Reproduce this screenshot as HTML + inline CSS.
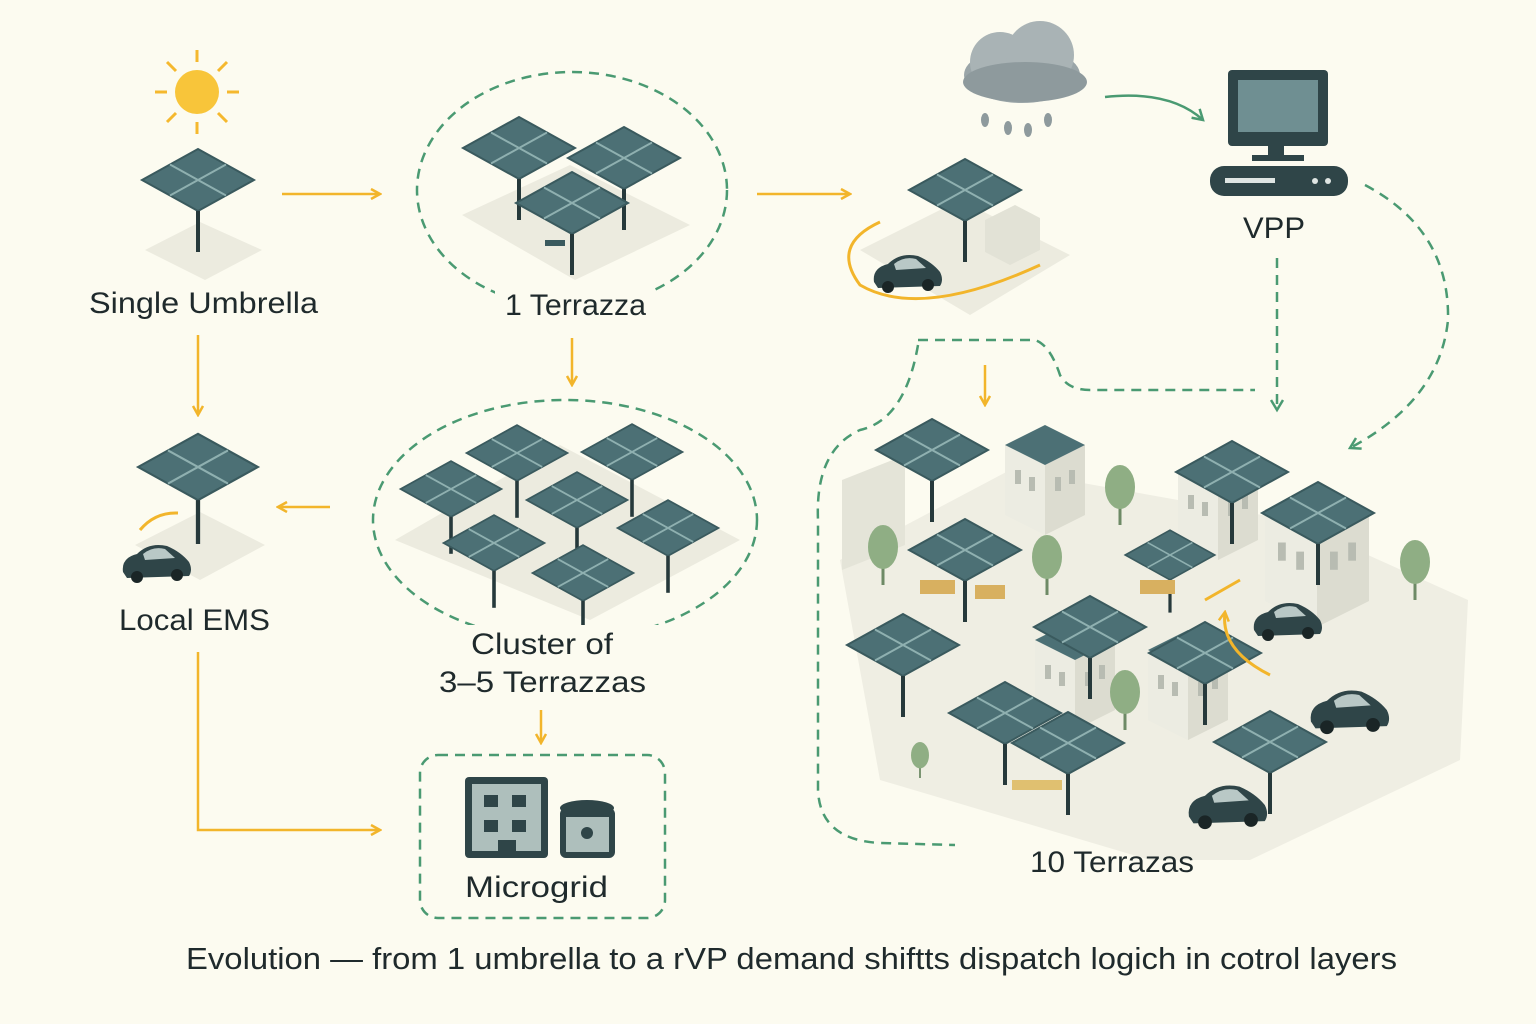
<!DOCTYPE html>
<html><head><meta charset="utf-8"><style>
html,body{margin:0;padding:0;background:#fcfbf0;}
svg{display:block;}
text{font-family:"Liberation Sans",sans-serif;fill:#1f2a2c;}
</style></head><body>
<svg width="1536" height="1024" viewBox="0 0 1536 1024" xmlns="http://www.w3.org/2000/svg">
<defs>
<g id="pan">
<polygon points="-56,0 0,-31 56,0 0,31" fill="#4c7075" stroke="#3a5a5e" stroke-width="2"/>
<line x1="-28" y1="-15.5" x2="28" y2="15.5" stroke="#8fb0b0" stroke-width="2"/>
<line x1="-28" y1="15.5" x2="28" y2="-15.5" stroke="#8fb0b0" stroke-width="2"/>
<line x1="0" y1="31" x2="0" y2="72" stroke="#26393b" stroke-width="4"/>
</g>
<g id="car">
<path d="M-34,10 Q-36,-4 -20,-8 Q-8,-20 10,-16 Q24,-10 32,0 Q36,8 32,14 L-30,16 Z" fill="#2f4548"/>
<path d="M-14,-8 Q-4,-16 8,-13 L18,-4 L-12,-2 Z" fill="#b9c8c6"/>
<circle cx="-20" cy="15" r="6" fill="#1a2526"/><circle cx="20" cy="13" r="6" fill="#1a2526"/>
</g>
<g id="bld">
<polygon points="0,0 40,-20 80,0 80,70 40,90 0,70" fill="#ecece2"/>
<polygon points="40,20 80,0 80,70 40,90" fill="#dcdcd0"/>
<polygon points="0,0 40,-20 80,0 40,20" fill="#4c7075"/>
<rect x="10" y="25" width="6" height="14" fill="#b8bcb2"/><rect x="24" y="32" width="6" height="14" fill="#b8bcb2"/>
<rect x="50" y="32" width="6" height="14" fill="#b8bcb2"/><rect x="64" y="25" width="6" height="14" fill="#b8bcb2"/>
</g>
<g id="tree"><line x1="0" y1="0" x2="0" y2="30" stroke="#6e8a66" stroke-width="3"/><ellipse cx="0" cy="-8" rx="15" ry="22" fill="#8fae84"/></g>
<marker id="ao" markerWidth="12" markerHeight="12" refX="10" refY="6" orient="auto" markerUnits="userSpaceOnUse"><path d="M1,1 L10,6 L1,11" fill="none" stroke="#f2b52b" stroke-width="2.5"/></marker>
<marker id="ag" markerWidth="14" markerHeight="14" refX="11" refY="7" orient="auto" markerUnits="userSpaceOnUse"><path d="M1,1 L11,7 L1,13" fill="none" stroke="#4a9a72" stroke-width="2.5"/></marker>
</defs>

<g stroke="#f5b82e" stroke-width="3">
<line x1="197" y1="50" x2="197" y2="62"/><line x1="197" y1="122" x2="197" y2="134"/>
<line x1="155" y1="92" x2="167" y2="92"/><line x1="227" y1="92" x2="239" y2="92"/>
<line x1="167" y1="62" x2="176" y2="71"/><line x1="218" y1="113" x2="227" y2="122"/>
<line x1="227" y1="62" x2="218" y2="71"/><line x1="167" y1="122" x2="176" y2="113"/>
</g>
<circle cx="197" cy="92" r="22" fill="#f8c53a"/>

<polygon points="145,250 200,222 262,250 205,280" fill="#ecebdf"/>
<use href="#pan" x="198" y="180"/>
<text x="89" y="313" font-size="30" textLength="229" lengthAdjust="spacingAndGlyphs">Single Umbrella</text>

<g stroke="#f2b52b" stroke-width="2.5" fill="none" marker-end="url(#ao)">
<line x1="282" y1="194" x2="380" y2="194"/>
<line x1="757" y1="194" x2="850" y2="194"/>
<line x1="198" y1="335" x2="198" y2="415"/>
<line x1="330" y1="507" x2="278" y2="507"/>
<line x1="572" y1="338" x2="572" y2="385"/>
<line x1="541" y1="710" x2="541" y2="743"/>
<polyline points="198,652 198,830 380,830"/>
<line x1="985" y1="365" x2="985" y2="405"/>
</g>

<ellipse cx="572" cy="190" rx="155" ry="118" fill="none" stroke="#4a9a72" stroke-width="2.5" stroke-dasharray="10,7"/>
<polygon points="462,215 570,165 690,225 575,280" fill="#ecebdf"/>
<use href="#pan" x="519" y="148"/>
<use href="#pan" x="624" y="158"/>
<use href="#pan" x="572" y="203"/>
<rect x="545" y="240" width="20" height="6" fill="#3a5a5e"/>
<rect x="495" y="285" width="160" height="38" fill="#fcfbf0"/>
<text x="505" y="315" font-size="30" textLength="141" lengthAdjust="spacingAndGlyphs">1 Terrazza</text>

<polygon points="860,250 960,200 1070,255 970,315" fill="#ecebdf"/>
<polygon points="985,220 1015,205 1040,218 1040,250 1010,265 985,252" fill="#e2e2d6"/>
<use href="#pan" x="965" y="190"/>
<path d="M880,222 Q830,245 860,285 Q920,320 1040,265" fill="none" stroke="#f2b52b" stroke-width="3"/>
<use href="#car" x="908" y="272"/>

<ellipse cx="1022" cy="75" rx="58" ry="28" fill="#9aa5a8"/>
<circle cx="1000" cy="62" r="30" fill="#a9b3b5"/><circle cx="1040" cy="55" r="34" fill="#a9b3b5"/>
<ellipse cx="1025" cy="82" rx="62" ry="20" fill="#8e9a9d"/>
<g fill="#8e9a9d"><ellipse cx="985" cy="120" rx="4" ry="7"/><ellipse cx="1008" cy="128" rx="4" ry="7"/><ellipse cx="1028" cy="130" rx="4" ry="7"/><ellipse cx="1048" cy="120" rx="4" ry="7"/></g>
<path d="M1105,97 Q1170,90 1203,120" fill="none" stroke="#4a9a72" stroke-width="2.5" marker-end="url(#ag)"/>

<rect x="1228" y="70" width="100" height="76" rx="4" fill="#2f4548"/>
<rect x="1238" y="80" width="80" height="52" fill="#6f8f92"/>
<rect x="1268" y="146" width="16" height="12" fill="#2f4548"/>
<rect x="1252" y="155" width="52" height="6" fill="#2f4548"/>
<rect x="1210" y="166" width="138" height="30" rx="14" fill="#2f4548"/>
<rect x="1225" y="178" width="50" height="5" fill="#dfe5e3"/>
<circle cx="1315" cy="181" r="3" fill="#dfe5e3"/><circle cx="1328" cy="181" r="3" fill="#dfe5e3"/>
<text x="1243" y="238" font-size="30" textLength="62" lengthAdjust="spacingAndGlyphs">VPP</text>

<g fill="none" stroke="#4a9a72" stroke-width="2.5" stroke-dasharray="10,7">
<line x1="1277" y1="258" x2="1277" y2="410" marker-end="url(#ag)"/>
<path d="M1365,185 Q1450,230 1448,320 Q1440,400 1350,448" marker-end="url(#ag)"/>
<path d="M918,340 L1035,340 Q1050,345 1060,375 Q1068,390 1090,390 L1255,390"/>
<path d="M918,345 Q905,420 860,430 Q815,450 818,520 L818,790 Q820,840 880,843 L955,845"/>
<ellipse cx="565" cy="520" rx="192" ry="120"/>
<rect x="420" y="755" width="245" height="163" rx="18"/>
</g>

<polygon points="840,560 1010,470 1290,520 1468,600 1460,760 1250,860 1150,860 880,780" fill="#efeee3"/>
<polygon points="842,480 905,455 905,545 842,570" fill="#e4e4d8"/>
<use href="#bld" x="1005" y="445"/>
<use href="#bld" x="1178" y="470"/>
<use href="#bld" x="1265" y="510" transform="translate(1265,510) scale(1.3) translate(-1265,-510)"/>
<use href="#bld" x="1035" y="640"/>
<use href="#bld" x="1148" y="650"/>
<use href="#tree" x="1120" y="495"/>
<use href="#tree" x="883" y="555"/>
<use href="#tree" x="1047" y="565"/>
<use href="#tree" x="1415" y="570"/>
<use href="#tree" x="1125" y="700"/>
<use href="#tree" x="920" y="760" transform="translate(920,760) scale(0.6) translate(-920,-760)"/>
<use href="#pan" x="932" y="450"/>
<use href="#pan" x="965" y="550"/>
<use href="#pan" x="1170" y="555" transform="translate(1170,555) scale(0.8) translate(-1170,-555)"/>
<use href="#pan" x="1232" y="472"/>
<use href="#pan" x="1318" y="513"/>
<use href="#pan" x="1090" y="627"/>
<use href="#pan" x="1205" y="653"/>
<use href="#pan" x="903" y="645"/>
<use href="#pan" x="1005" y="713"/>
<use href="#pan" x="1068" y="743"/>
<use href="#pan" x="1270" y="742"/>
<rect x="920" y="580" width="35" height="14" fill="#d8b060"/>
<rect x="975" y="585" width="30" height="14" fill="#d8b060"/>
<rect x="1140" y="580" width="35" height="14" fill="#d8b060"/>
<rect x="1012" y="780" width="50" height="10" fill="#e0c070"/>
<path d="M1205,600 L1240,580" stroke="#f2b52b" stroke-width="3"/>
<path d="M1270,675 Q1220,650 1225,612" fill="none" stroke="#f2b52b" stroke-width="3" marker-end="url(#ao)"/>
<use href="#car" x="1288" y="620"/>
<use href="#car" x="1350" y="710" transform="translate(1350,710) scale(1.15) translate(-1350,-710)"/>
<use href="#car" x="1228" y="805" transform="translate(1228,805) scale(1.15) translate(-1228,-805)"/>
<text x="1030" y="872" font-size="30" textLength="164" lengthAdjust="spacingAndGlyphs">10 Terrazas</text>

<polygon points="135,545 200,512 265,545 200,580" fill="#ecebdf"/>
<use href="#pan" x="198" y="467" transform="translate(198,467) scale(1.07) translate(-198,-467)"/>
<path d="M140,530 Q155,512 178,513" fill="none" stroke="#f2b52b" stroke-width="3"/>
<use href="#car" x="157" y="562"/>
<text x="119" y="630" font-size="30" textLength="151" lengthAdjust="spacingAndGlyphs">Local EMS</text>

<polygon points="395,540 560,445 740,540 590,620" fill="#ecebdf"/>
<use href="#pan" x="517" y="453" transform="translate(517,453) scale(0.9) translate(-517,-453)"/>
<use href="#pan" x="632" y="452" transform="translate(632,452) scale(0.9) translate(-632,-452)"/>
<use href="#pan" x="451" y="489" transform="translate(451,489) scale(0.9) translate(-451,-489)"/>
<use href="#pan" x="577" y="500" transform="translate(577,500) scale(0.9) translate(-577,-500)"/>
<use href="#pan" x="668" y="528" transform="translate(668,528) scale(0.9) translate(-668,-528)"/>
<use href="#pan" x="494" y="543" transform="translate(494,543) scale(0.9) translate(-494,-543)"/>
<use href="#pan" x="583" y="573" transform="translate(583,573) scale(0.9) translate(-583,-573)"/>
<rect x="430" y="625" width="240" height="75" fill="#fcfbf0"/>
<text x="471" y="654" font-size="30" textLength="142" lengthAdjust="spacingAndGlyphs">Cluster of</text>
<text x="439" y="692" font-size="30" textLength="207" lengthAdjust="spacingAndGlyphs">3–5 Terrazzas</text>

<rect x="465" y="777" width="83" height="81" rx="4" fill="#2f4548"/>
<rect x="472" y="784" width="69" height="67" fill="#aebfbc"/>
<g fill="#2f4548"><rect x="484" y="795" width="14" height="12"/><rect x="512" y="795" width="14" height="12"/><rect x="484" y="820" width="14" height="12"/><rect x="512" y="820" width="14" height="12"/><rect x="498" y="840" width="18" height="14"/></g>
<rect x="560" y="808" width="55" height="50" rx="6" fill="#2f4548"/>
<ellipse cx="587" cy="808" rx="27" ry="8" fill="#2f4548"/>
<rect x="566" y="817" width="43" height="35" fill="#aebfbc"/>
<circle cx="587" cy="833" r="6" fill="#2f4548"/>
<text x="465" y="897" font-size="30" textLength="143" lengthAdjust="spacingAndGlyphs">Microgrid</text>

<text x="186" y="969" font-size="31" textLength="1211" lengthAdjust="spacingAndGlyphs">Evolution — from 1 umbrella to a rVP  demand shiftts dispatch logich in cotrol layers</text>
</svg>
</body></html>
